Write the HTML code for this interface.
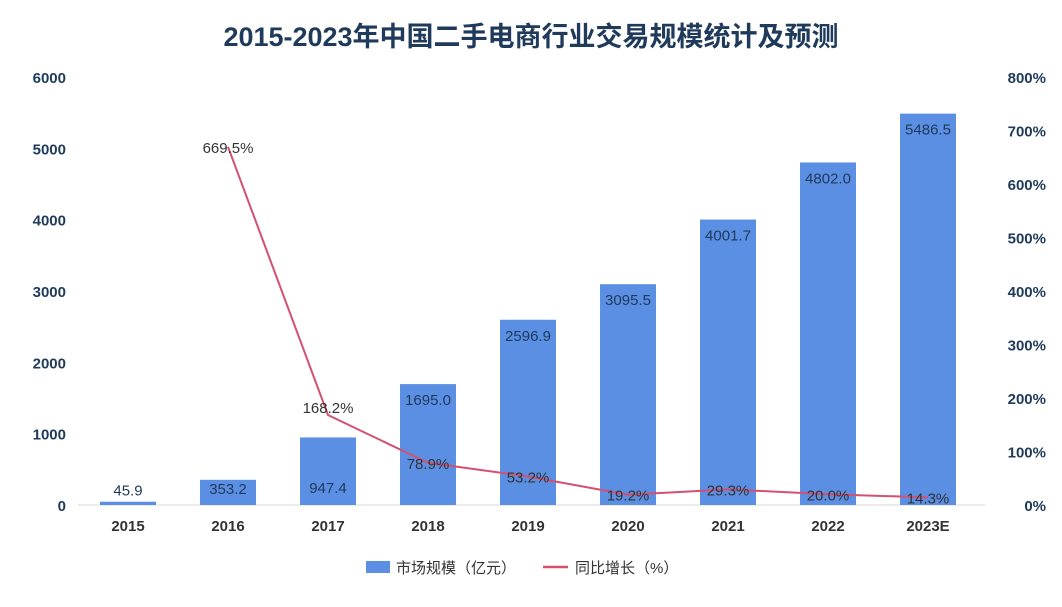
<!DOCTYPE html>
<html><head><meta charset="utf-8"><style>
body{margin:0;background:#fff;}
svg text{font-family:"Liberation Sans","Noto Sans CJK SC",sans-serif;}
</style></head><body>
<svg width="1062" height="602" viewBox="0 0 1062 602" xmlns="http://www.w3.org/2000/svg">
<text x="531" y="46" text-anchor="middle" font-size="27" font-weight="bold" fill="#1f3a5a">2015-2023年中国二手电商行业交易规模统计及预测</text>
<g id="axes"></g><g id="bars"></g><g id="line"></g><g id="labels"></g>
<g>
<rect x="366" y="561" width="24" height="12" fill="#5b8fe3"/>
<text x="396" y="573" font-size="15" fill="#333">市场规模（亿元）</text>
<line x1="543" y1="567" x2="568" y2="567" stroke="#d4506f" stroke-width="2.5"/>
<text x="575" y="573" font-size="15" fill="#333">同比增长（%）</text>
</g>
</svg>
<script>
const categories=["2015","2016","2017","2018","2019","2020","2021","2022","2023E"];
const marketValues=[45.9,353.2,947.4,1695.0,2596.9,3095.5,4001.7,4802.0,5486.5];
const growthValues=[null,669.5,168.2,78.9,53.2,19.2,29.3,20.0,14.3];
const leftTicks=[0,1000,2000,3000,4000,5000,6000];
const rightTicks=[0,100,200,300,400,500,600,700,800];
const NS="http://www.w3.org/2000/svg";
const y0=505,yTop=77;
const yL=v=>y0-(v/6000)*(y0-yTop);
const yR=v=>y0-(v/800)*(y0-yTop);
const xC=i=>128+i*100;
function mk(tag,attrs,parent,text){const e=document.createElementNS(NS,tag);for(const k in attrs)e.setAttribute(k,attrs[k]);if(text!==undefined)e.textContent=text;document.getElementById(parent).appendChild(e);return e;}
const ax=mk("line",{x1:78,x2:985,y1:y0,y2:y0,stroke:"#d9d9d9","stroke-width":1},"axes");


leftTicks.forEach(v=>{const t=mk("text",{x:66,y:yL(v)+6,"text-anchor":"end","font-size":15,"font-weight":"bold",fill:"#1f3a5a"},"axes",String(v));

});
rightTicks.forEach(v=>{const t=mk("text",{x:1046,y:yR(v)+6,"text-anchor":"end","font-size":15,"font-weight":"bold",fill:"#1f3a5a"},"axes",v+"%");

});
categories.forEach((c,i)=>{const t=mk("text",{x:xC(i),y:531,"text-anchor":"middle","font-size":15,"font-weight":"bold",fill:"#333"},"axes",c);

});
marketValues.forEach((v,i)=>{const b=mk("rect",{x:xC(i)-28,y:yL(v),width:56,height:y0-yL(v),fill:"#5b8fe3"},"bars");


let ly=v<200?yL(v)-6:(v<1200?y0-12:yL(v)+21);
if(v>=200&&v<500)ly=yL(v)+14;
const t=mk("text",{x:xC(i),y:ly,"text-anchor":"middle","font-size":15,fill:"#1f3a5a"},"labels",v.toFixed(1));

});
const pts=[];growthValues.forEach((v,i)=>{if(v!==null)pts.push(xC(i)+","+yR(v));});
const pl=mk("polyline",{points:pts.join(" "),fill:"none",stroke:"#d4506f","stroke-width":2},"line");


growthValues.forEach((v,i)=>{if(v===null)return;const t=mk("text",{x:xC(i),y:yR(v)+(i===1?6:i===2?-2:6),"text-anchor":"middle","font-size":15,fill:"#333"},"labels",v.toFixed(1)+"%");

});
</script>
</body></html>
